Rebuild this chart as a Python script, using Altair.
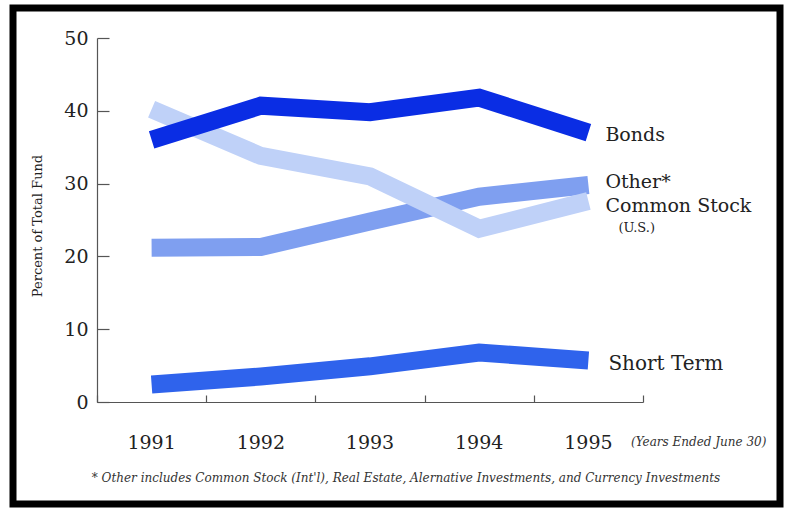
import altair as alt
import pandas as pd

# Asset allocation, percent of total fund, fiscal years ended June 30
years = ["1991", "1992", "1993", "1994", "1995"]
bonds = [36.0, 40.7, 39.8, 41.8, 37.0]
common_stock_us = [40.2, 33.8, 31.0, 23.8, 27.6]
other = [21.2, 21.3, 24.8, 28.2, 29.8]
short_term = [2.4, 3.5, 4.9, 6.8, 5.7]

y_ticks = [0, 10, 20, 30, 40, 50]

series_names = ["Other*", "Common Stock", "Bonds", "Short Term"]
series_values = [other, common_stock_us, bonds, short_term]
series_colors = ["#7f9ff0", "#bfd1f8", "#0a2de4", "#2f63ec"]

SERIF = "DejaVu Serif"
W, H = 546, 364

rows = []
for name, vals in zip(series_names, series_values):
    for yr, v in zip(years, vals):
        rows.append({"year": yr, "series": name, "pct": v})
df = pd.DataFrame(rows)

x_scale = alt.Scale(type="band", domain=years, paddingInner=0, paddingOuter=0)
y_scale = alt.Scale(domain=[0, 50], nice=False, zero=True)

# axis with labels and domain line only
x_main = alt.X("year:N", scale=x_scale, bandPosition=0.5,
               axis=alt.Axis(orient="bottom", title=None, ticks=False, tickSize=0,
                             domainColor="#555555", domainWidth=1.2,
                             labelFont=SERIF, labelFontSize=19, labelColor="#222222",
                             labelAngle=0, labelBaseline="alphabetic", labelPadding=46,
                             grid=False))
y_main = alt.Y("pct:Q", scale=y_scale,
               axis=alt.Axis(orient="left", title=None, ticks=False, tickSize=0,
                             values=y_ticks, domainColor="#555555", domainWidth=1.2,
                             labelFont=SERIF, labelFontSize=19, labelColor="#222222",
                             labelPadding=9, labelBaseline="middle", grid=False))

layers = []
for i, (name, color) in enumerate(zip(series_names, series_colors)):
    enc_x = x_main if i == 0 else alt.X("year:N", scale=x_scale, bandPosition=0.5, axis=None)
    enc_y = y_main if i == 0 else alt.Y("pct:Q", scale=y_scale, axis=None)
    layers.append(
        alt.Chart(df).transform_filter(alt.datum.series == name)
        .mark_line(color=color, strokeWidth=18, strokeCap="butt", strokeJoin="miter")
        .encode(x=enc_x, y=enc_y)
    )

# inward-pointing tick marks, drawn by a second set of axes
tick_layer = alt.Chart(df).mark_point(opacity=0).encode(
    x=alt.X("year:N", scale=x_scale,
            axis=alt.Axis(orient="bottom", title=None, labels=False, domain=False,
                          tickBand="extent", tickSize=7, offset=-7,
                          tickColor="#555555", tickWidth=1.2, grid=False)),
    y=alt.Y("pct:Q", scale=y_scale,
            axis=alt.Axis(orient="left", title=None, labels=False, domain=False,
                          values=y_ticks, tickSize=12, offset=-12,
                          tickColor="#555555", tickWidth=1.2, grid=False)),
)

# series names at the right-hand end of each line
end_labels = pd.DataFrame({
    "year": ["1995"] * 5,
    "text": ["Bonds", "Other*", "Common Stock", "(U.S.)", "Short Term"],
    "pct": [bonds[-1], other[-1], common_stock_us[-1], common_stock_us[-1], short_term[-1]],
    "dy": [2, -3, 5, 27, 3],
    "dx": [17, 17, 17, 30, 20],
    "size": [19, 19, 19, 13, 20],
})
label_layers = []
for _, r in end_labels.iterrows():
    label_layers.append(
        alt.Chart(pd.DataFrame([r])).mark_text(
            align="left", baseline="middle", font=SERIF, fontSize=int(r["size"]),
            color="#222222", dx=int(r["dx"]), dy=int(r["dy"]),
        ).encode(
            x=alt.X("year:N", scale=x_scale, bandPosition=0.5, axis=None),
            y=alt.Y("pct:Q", scale=y_scale, axis=None),
            text="text:N",
        )
    )

one = pd.DataFrame({"k": [0]})

y_title = alt.Chart(one).mark_text(
    text="Percent of Total Fund", angle=270, font=SERIF, fontSize=13,
    color="#222222", align="center", baseline="middle",
).encode(x=alt.value(-59), y=alt.value(188))

years_note = alt.Chart(one).mark_text(
    text="(Years Ended June 30)", font=SERIF, fontSize=12, fontStyle="italic",
    color="#333333", align="left", baseline="alphabetic",
).encode(x=alt.value(534), y=alt.value(408))

footnote = alt.Chart(one).mark_text(
    text="* Other includes Common Stock (Int'l), Real Estate, Alernative Investments, and Currency Investments",
    font=SERIF, fontSize=12, fontStyle="italic", color="#333333",
    align="center", baseline="alphabetic",
).encode(x=alt.value(309), y=alt.value(444))

frame = alt.Chart(one).mark_rect(fill=None, stroke="#000000", strokeWidth=7).encode(
    x=alt.value(-84), x2=alt.value(683), y=alt.value(-30), y2=alt.value(466)
)

chart = alt.layer(
    frame, tick_layer, *layers, *label_layers, y_title, years_note, footnote
).resolve_axis(x="independent", y="independent").properties(
    width=W, height=H,
    autosize=alt.AutoSizeParams(type="none"),
    padding={"left": 97, "top": 38, "right": 143, "bottom": 106},
    background="#ffffff",
).configure_view(stroke=None)

chart.save("out.html", embed_options={"renderer": "svg", "actions": False})
